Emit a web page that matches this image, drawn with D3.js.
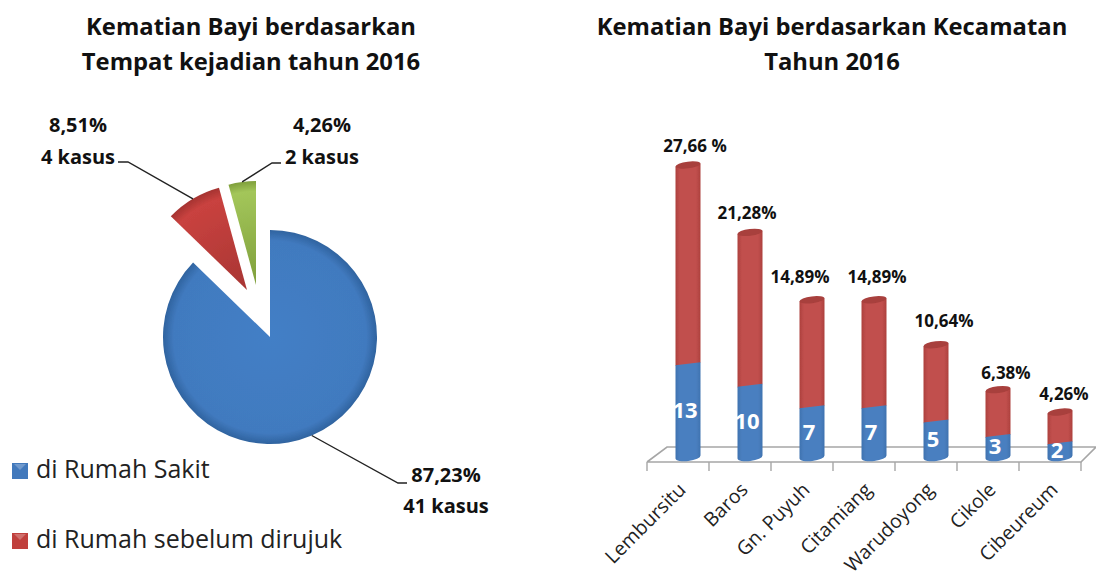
<!DOCTYPE html>
<html>
<head>
<meta charset="utf-8">
<script src="https://cdnjs.cloudflare.com/ajax/libs/d3/7.8.5/d3.min.js"></script>
<style>
  body { margin: 0; background: #fff; }
  text { font-family: "Open Sans", sans-serif; fill: #111; }
  .bold { font-weight: 700; }
</style>
</head>
<body>
<div id="chart"></div>
<script>
// Pie data
const placeNames = ['di Rumah Sakit', 'di Rumah sebelum dirujuk', 'lainnya'];
const placeCases = [41, 4, 2];
const placePercent = ['87,23%', '8,51%', '4,26%'];
const placeKasus = ['41 kasus', '4 kasus', '2 kasus'];

// Stacked cylinder data
const districts = ['Lembursitu', 'Baros', 'Gn. Puyuh', 'Citamiang', 'Warudoyong', 'Cikole', 'Cibeureum'];
const districtCases = [13, 10, 7, 7, 5, 3, 2];
const districtPercent = [27.66, 21.28, 14.89, 14.89, 10.64, 6.38, 4.26];
const districtPercentText = ['27,66 %', '21,28%', '14,89%', '14,89%', '10,64%', '6,38%', '4,26%'];

const svg = d3.select('#chart').append('svg')
  .attr('width', 1096)
  .attr('height', 580);
const defs = svg.append('defs');

// gradients
function radial(id, r, c0, c1, c2) {
  const g = defs.append('radialGradient').attr('id', id)
    .attr('gradientUnits', 'userSpaceOnUse')
    .attr('cx', 0).attr('cy', 0).attr('r', r);
  g.append('stop').attr('offset', '0%').attr('stop-color', c0);
  g.append('stop').attr('offset', '90%').attr('stop-color', c1);
  g.append('stop').attr('offset', '100%').attr('stop-color', c2);
}
radial('pieBlue', 107, '#437fc6', '#417abf', '#2f639f');
radial('pieRed', 106, '#a83533', '#c9423f', '#a53331');
radial('pieGreen', 104, '#7f9f3b', '#a3c65a', '#7f9f3b');

function sideways(id, edge, mid) {
  const g = defs.append('linearGradient').attr('id', id);
  g.append('stop').attr('offset', '0%').attr('stop-color', edge);
  g.append('stop').attr('offset', '18%').attr('stop-color', mid);
  g.append('stop').attr('offset', '82%').attr('stop-color', mid);
  g.append('stop').attr('offset', '100%').attr('stop-color', edge);
}
sideways('barBlue', '#3f73b0', '#4a7fc0');
sideways('barRed', '#ad403d', '#c1504d');

defs.append('filter').attr('id', 'soft')
  .append('feGaussianBlur').attr('stdDeviation', 0.6);

function title(cx, lines) {
  svg.append('g').selectAll('text').data(lines).join('text')
    .attr('class', 'bold')
    .attr('x', cx)
    .attr('y', (d, i) => 35 + i * 35)
    .attr('text-anchor', 'middle')
    .attr('font-size', 23.8)
    .text(d => d);
}
title(251, ['Kematian Bayi berdasarkan', 'Tempat kejadian tahun 2016']);
title(832, ['Kematian Bayi berdasarkan Kecamatan', 'Tahun 2016']);

// ---- pie
const pieArcs = d3.pie().sort(null)(placeCases);
const pieFill = ['url(#pieBlue)', 'url(#pieRed)', 'url(#pieGreen)'];
const pieRadius = [107, 106, 104];
const pieCenter = [[270, 337], [247, 290], [256, 285]];
// elbow of each leader line, then where it stops
const leaderEnds = [[[398, 483], [407, 483]], [[128, 162], [118, 162]], [[272, 163], [281, 163]]];

const slices = svg.append('g').attr('filter', 'url(#soft)');
pieArcs.forEach((d, i) => {
  const arc = d3.arc().innerRadius(0).outerRadius(pieRadius[i]);
  slices.append('path')
    .attr('transform', `translate(${pieCenter[i]})`)
    .attr('d', arc(d))
    .attr('fill', pieFill[i]);

  // leader starts on the rim at the middle of the slice
  const mid = (d.startAngle + d.endAngle) / 2;
  const start = [
    pieCenter[i][0] + Math.sin(mid) * pieRadius[i],
    pieCenter[i][1] - Math.cos(mid) * pieRadius[i]
  ];
  svg.append('path')
    .attr('d', d3.line()([start, ...leaderEnds[i]]))
    .attr('fill', 'none')
    .attr('stroke', '#222')
    .attr('stroke-width', 1.4);
});

const pieLabelPos = [[446, 482, 513], [78, 132, 164], [322, 132, 164]];
pieLabelPos.forEach((p, i) => {
  svg.append('text').attr('class', 'bold').attr('x', p[0]).attr('y', p[1])
    .attr('text-anchor', 'middle').attr('font-size', 20).text(placePercent[i]);
  svg.append('text').attr('class', 'bold').attr('x', p[0]).attr('y', p[2])
    .attr('text-anchor', 'middle').attr('font-size', 20).text(placeKasus[i]);
});

// legend, the third entry is not shown in the picture
const legend = svg.append('g');
const legendY = [478, 548];
const legendFill = ['#4279bc', '#c0403d'];
placeNames.slice(0, 2).forEach((name, i) => {
  legend.append('rect')
    .attr('x', 12).attr('y', legendY[i] - 15)
    .attr('width', 16).attr('height', 16)
    .attr('fill', legendFill[i]);
  legend.append('path')
    .attr('d', d3.line()([[14, legendY[i] - 14], [26, legendY[i] - 14], [20, legendY[i] - 8]]))
    .attr('fill', '#fff')
    .attr('opacity', 0.25);
  legend.append('text')
    .attr('x', 36).attr('y', legendY[i])
    .attr('font-size', 25)
    .style('fill', '#222')
    .text(name);
});

// ---- stacked cylinders
const rows = districts.map((name, i) => ({ name, cases: districtCases[i], percent: districtPercent[i] }));
const stacked = d3.stack().keys(['cases', 'percent'])(rows);

const x = d3.scaleBand().domain(districts).range([647, 1081]);
const y = d3.scaleLinear().domain([0, 40.66]).range([457, 165]);
const depth = 10;      // bars stand in the middle of the floor
const floorFront = 462;
const floorBack = 447;
const barW = 25;

// floor
svg.append('path')
  .attr('d', d3.line()([
    [x.range()[0], floorFront], [x.range()[1], floorFront],
    [x.range()[1] + 15, floorBack], [x.range()[0] + 20, floorBack],
    [x.range()[0], floorFront]
  ]))
  .attr('fill', '#fff')
  .attr('stroke', '#a6a6a6')
  .attr('stroke-width', 1.6);

const edges = districts.map(d => x(d)).concat(x.range()[1]);
svg.append('g').selectAll('line').data(edges).join('line')
  .attr('x1', d => d).attr('x2', d => d)
  .attr('y1', floorFront).attr('y2', floorFront + 9)
  .attr('stroke', '#a6a6a6').attr('stroke-width', 1.4);

// category labels through the axis
const xAxis = svg.append('g')
  .attr('transform', `translate(0,${floorFront})`)
  .call(d3.axisBottom(x).tickSize(0));
xAxis.select('.domain').remove();
xAxis.selectAll('text')
  .attr('font-family', 'Open Sans')
  .attr('font-size', 19.5)
  .style('fill', '#222')
  .attr('text-anchor', 'end')
  .attr('dx', 0)
  .attr('dy', 0)
  .attr('y', 0)
  .attr('transform', 'translate(9,29) rotate(-45)');

// side of a cylinder, tilted a little upward to the right
function cylinder(cx, top, bottom) {
  const l = cx - barW / 2, r = cx + barW / 2, t = 1.5;
  return `M${l},${top + t}L${r},${top - t}` +
    `L${r},${bottom - t}A${barW / 2},4 -7 0 1 ${l},${bottom + t}Z`;
}
const barFill = ['url(#barBlue)', 'url(#barRed)'];
const bars = svg.append('g').attr('filter', 'url(#soft)');
// red first so the flat top of the blue part makes the seam
[1, 0].forEach(s => {
  bars.append('g').selectAll('path').data(stacked[s]).join('path')
    .attr('d', d => cylinder(x(d.data.name) + x.bandwidth() / 2 + depth, y(d[1]), y(d[0])))
    .attr('fill', barFill[s]);
});
// top caps
bars.append('g').selectAll('ellipse').data(stacked[1]).join('ellipse')
  .attr('rx', barW / 2).attr('ry', 3.4)
  .attr('transform', d => `translate(${x(d.data.name) + x.bandwidth() / 2 + depth},${y(d[1])}) rotate(-7)`)
  .attr('fill', '#a83f3c');

// case counts in the blue part
svg.append('g').selectAll('text').data(stacked[0]).join('text')
  .attr('class', 'bold')
  .attr('x', d => x(d.data.name) + x.bandwidth() / 2 + depth - 3)
  .attr('y', d => (y(d[0]) + y(d[1])) / 2 + 8)
  .attr('text-anchor', 'middle')
  .attr('font-size', 22)
  .style('fill', '#fff')
  .text(d => d.data.cases);

// percent labels, moved by hand in the original so they do not sit straight on the bars
const labelNudge = [[7, -13], [-3, -13], [-12, -17], [3, -17], [8, -18], [8, -11], [4, -12]];
svg.append('g').selectAll('text').data(stacked[1]).join('text')
  .attr('class', 'bold')
  .attr('x', (d, i) => x(d.data.name) + x.bandwidth() / 2 + depth + labelNudge[i][0])
  .attr('y', (d, i) => y(d[1]) + labelNudge[i][1])
  .attr('text-anchor', 'middle')
  .attr('font-size', 17)
  .text((d, i) => districtPercentText[i]);
</script>
</body>
</html>
